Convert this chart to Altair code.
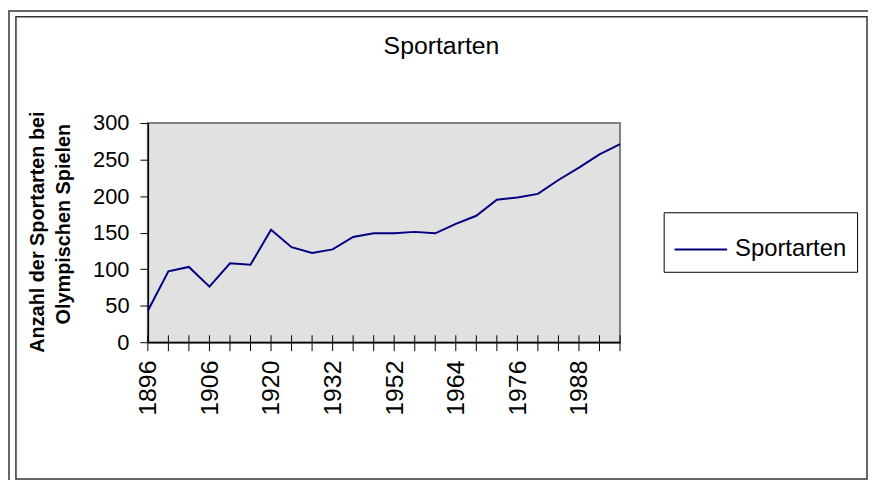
import altair as alt
import pandas as pd

YEARS = [1896, 1900, 1904, 1906, 1908, 1912, 1920, 1924, 1928, 1932, 1936, 1948,
         1952, 1956, 1960, 1964, 1968, 1972, 1976, 1980, 1984, 1988, 1992, 1996]
EVENTS = [43, 97, 103, 76, 108, 106, 154, 130, 122, 127, 144, 149,
          149, 151, 149, 162, 173, 195, 198, 203, 222, 239, 257, 271]
LABEL_YEARS = [1896, 1906, 1920, 1932, 1952, 1964, 1976, 1988]
Y_TICKS = [0, 50, 100, 150, 200, 250, 300]
SERIES = "Sportarten"
TITLE = "Sportarten"
Y_TITLE = ["Anzahl der Sportarten bei", "Olympischen Spielen"]

df = pd.DataFrame({"year": YEARS, "value": EVENTS, "series": [SERIES] * len(YEARS)})

FONT = "Liberation Sans"
W, H = 476, 221
PAD = {"left": 141, "top": 114, "right": 250, "bottom": 139}

xs = alt.X("year:O", scale=alt.Scale(type="point", padding=0),
           axis=alt.Axis(values=LABEL_YEARS, title=None, labelAngle=270,
                         labelFontSize=25, labelFont=FONT, labelColor="black",
                         ticks=False, tickSize=0, labelPadding=18,
                         domainColor="black", domainWidth=1.5))
ys = alt.Y("value:Q", scale=alt.Scale(domain=[0, 300], nice=False),
           axis=alt.Axis(values=Y_TICKS, title=None, grid=False, tickSize=8,
                         tickColor="black", labelFontSize=22, labelFont=FONT,
                         labelColor="black", labelPadding=11,
                         domainColor="black", domainWidth=1.5))

line = alt.Chart(df).mark_line(strokeWidth=2).encode(
    x=xs, y=ys,
    color=alt.Color("series:N",
                    scale=alt.Scale(domain=[SERIES], range=["#000080"]),
                    legend=alt.Legend(title=None, orient="none", legendX=520, legendY=90,
                                      padding=10, strokeColor="black", fillColor="white",
                                      labelFontSize=24, labelFont=FONT, labelColor="black",
                                      symbolType="stroke", symbolSize=2809,
                                      symbolStrokeWidth=2, labelOffset=7, labelLimit=300)),
)

xticks = alt.Chart(df).mark_rule(color="black", strokeWidth=1).encode(
    x=alt.X("year:O"), y=alt.value(214), y2=alt.value(230))

one = alt.Data(values=[{"k": 1}])

title = alt.Chart(one).mark_text(font=FONT, fontSize=25, color="black",
                                 align="center", baseline="alphabetic").encode(
    x=alt.value(296), y=alt.value(-70), text=alt.value(TITLE))

yt1 = alt.Chart(one).mark_text(font=FONT, fontSize=20, fontWeight="bold", color="black",
                               align="center", baseline="middle", angle=270).encode(
    x=alt.value(-111), y=alt.value(110), text=alt.value(Y_TITLE[0]))
yt2 = alt.Chart(one).mark_text(font=FONT, fontSize=20, fontWeight="bold", color="black",
                               align="center", baseline="middle", angle=270).encode(
    x=alt.value(-84), y=alt.value(102), text=alt.value(Y_TITLE[1]))

outer_top = alt.Chart(one).mark_rule(color="#666666", strokeWidth=2).encode(
    x=alt.value(-141), x2=alt.value(726), y=alt.value(-113))
outer_left = alt.Chart(one).mark_rule(color="#666666", strokeWidth=2).encode(
    x=alt.value(-140), y=alt.value(-114), y2=alt.value(360))
inner = alt.Chart(one).mark_rect(fillOpacity=0, stroke="#333333", strokeWidth=1.5).encode(
    x=alt.value(-133), x2=alt.value(725), y=alt.value(-107), y2=alt.value(359))

chart = alt.layer(line, xticks, title, yt1, yt2, outer_top, outer_left, inner).properties(
    width=W, height=H, autosize=alt.AutoSizeParams(type="none"), padding=PAD,
    background="white",
).configure_view(fill="#e1e1e1", stroke="#808080", strokeWidth=2)

chart.save("out.html", embed_options={"renderer": "svg", "actions": False})
